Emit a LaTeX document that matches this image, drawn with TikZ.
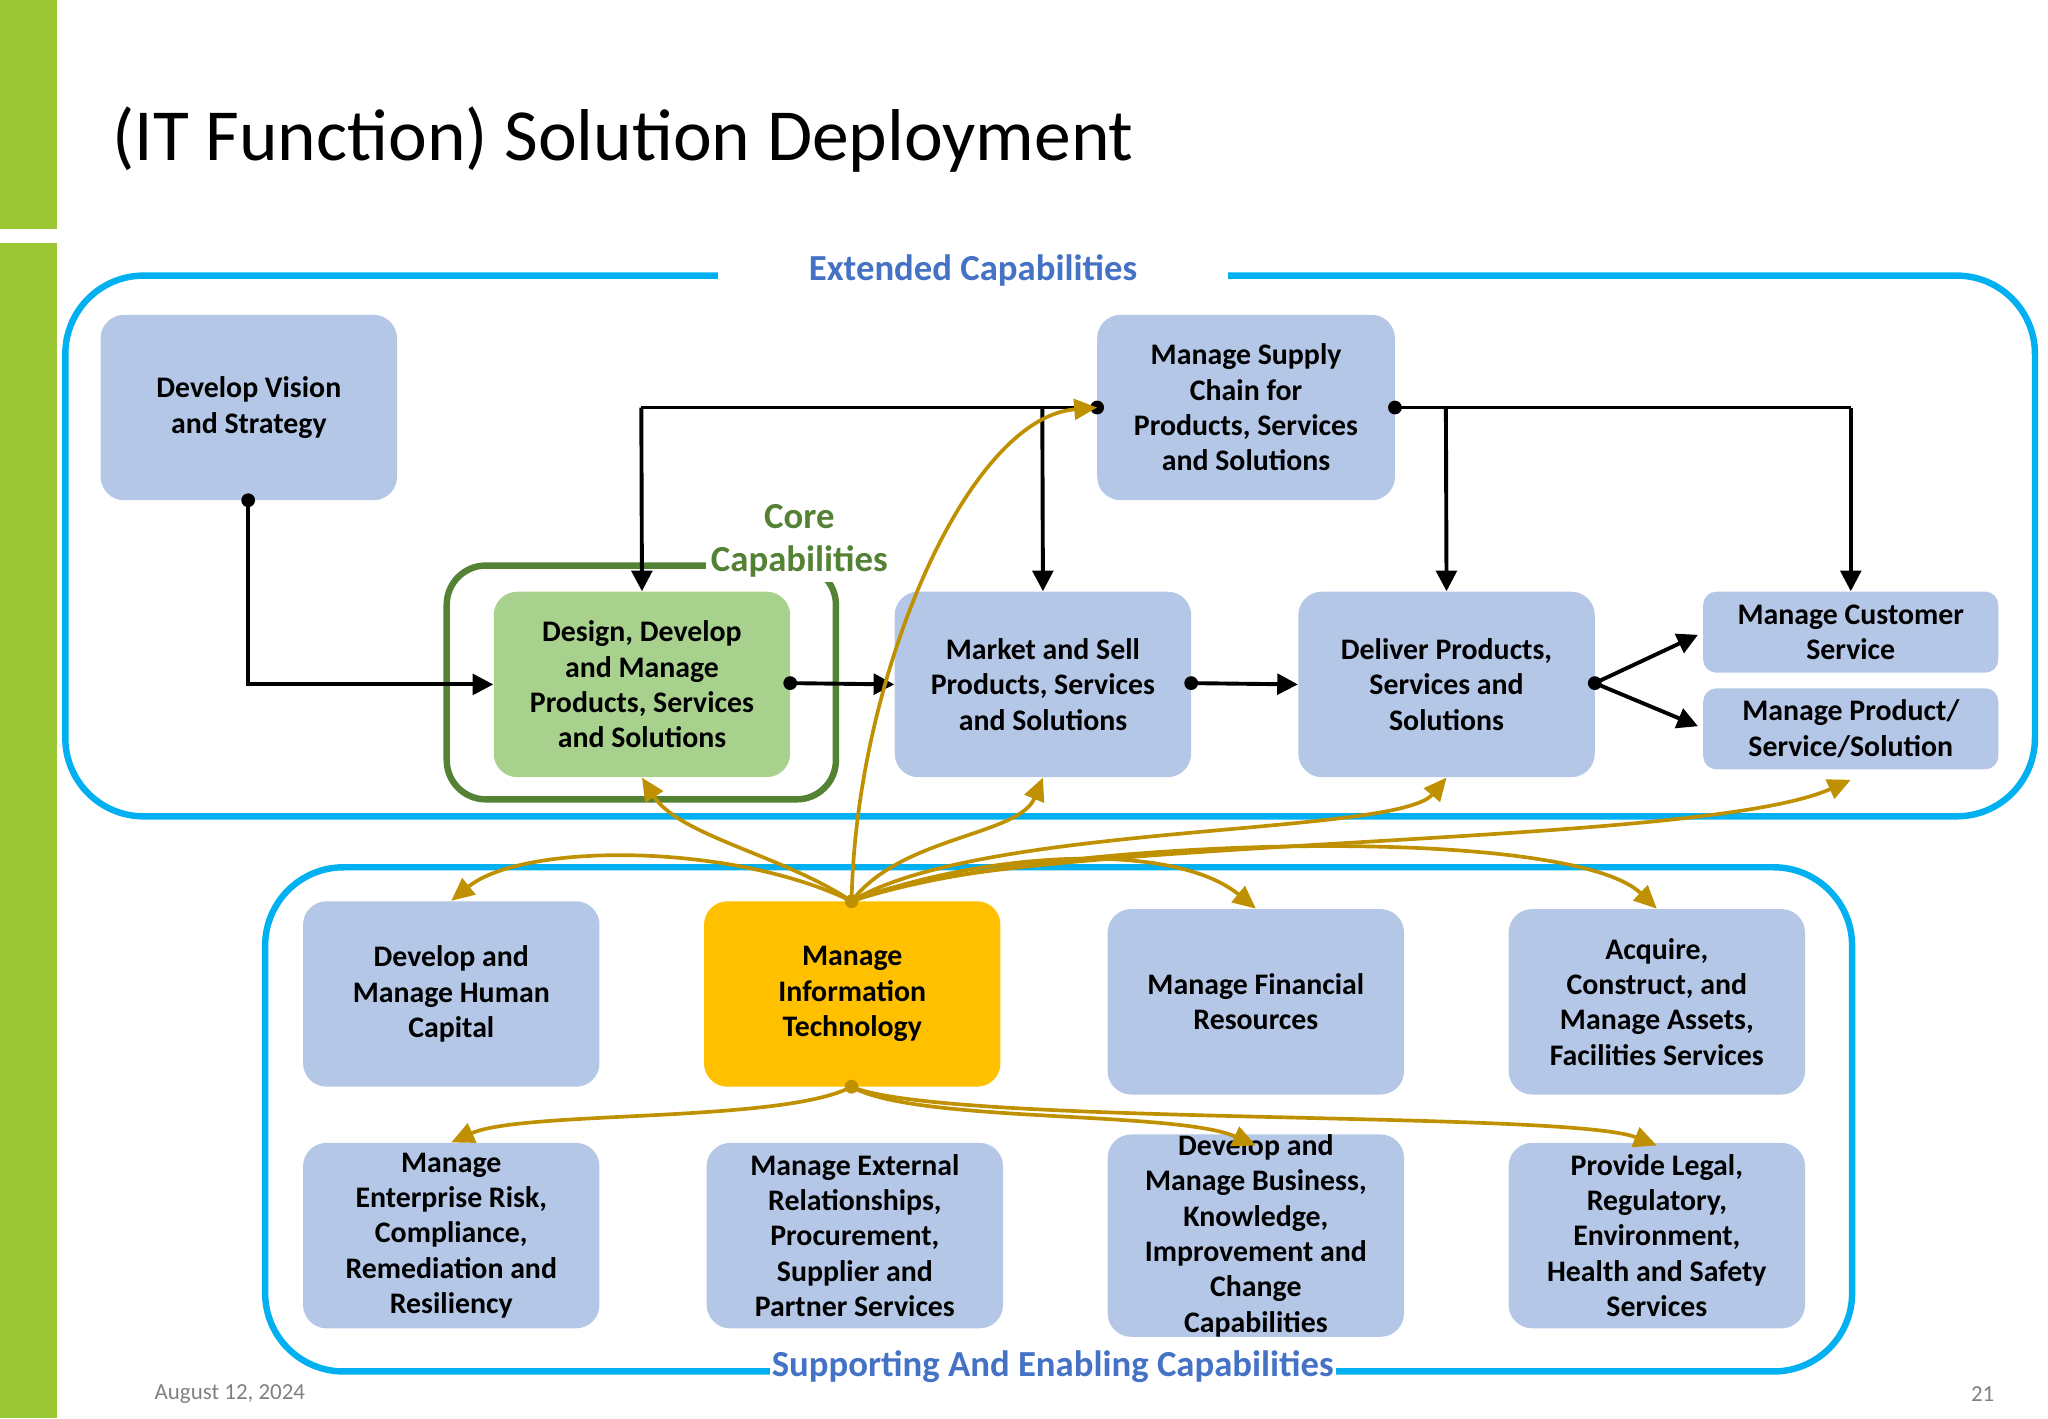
\documentclass[tikz,border=0pt]{standalone}
\usepackage{fontspec}
\setmainfont{Carlito}
\usetikzlibrary{arrows.meta}
\definecolor{barg}{RGB}{155,199,52}
\definecolor{boxb}{RGB}{180,199,231}
\definecolor{boxg}{RGB}{169,209,142}
\definecolor{gold}{RGB}{255,192,0}
\definecolor{arrg}{RGB}{191,144,0}
\definecolor{cyanl}{RGB}{0,176,240}
\definecolor{labb}{RGB}{68,114,196}
\definecolor{coreg}{RGB}{84,130,53}
\begin{document}
\begin{tikzpicture}[x=0.02cm,y=-0.02cm,
 box/.style={fill=boxb,rounded corners=0.36cm,align=center,font=\fontsize{13}{15.4}\selectfont\bfseries,inner sep=0pt},
 blk/.style={line width=1.7pt,-{Triangle[length=9pt,width=9pt]}},
 dot/.style={circle,fill=black,inner sep=0pt,minimum size=6pt},
 gl/.style={draw=arrg,line width=1.6pt,-{Triangle[length=10pt,width=9pt]}},
 bigr/.style={draw=cyanl,line width=2.8pt,rounded corners=1.2cm}]
\useasboundingbox (0,0) rectangle (1568,1086);
\fill[barg] (0,0) rectangle (44,175);
\fill[barg] (0,186) rectangle (44,1086);
\node[anchor=west,font=\fontsize{32}{38}\selectfont] (title) at (80,107) {(IT Function) Solution Deployment};
% outer frames
\draw[bigr] (50,211) rectangle (1558,625);
\node[fill=white,font=\fontsize{16}{19}\selectfont\bfseries,text=labb,minimum width=7.8cm] (ext) at (745,207) {Extended Capabilities};
\draw[bigr] (203,664) rectangle (1418,1050);
\node[fill=white,font=\fontsize{16}{19}\selectfont\bfseries,text=labb,inner sep=1pt] (sup) at (806,1046) {Supporting And Enabling Capabilities};
\draw[draw=coreg,line width=2.8pt,rounded corners=0.6cm] (342,433) rectangle (640,612);
\node[fill=white,font=\fontsize{16}{19}\selectfont\bfseries,text=coreg,align=center,inner sep=2pt] (core) at (612,414) {Core\\Capabilities};
% top boxes
\node[box,minimum width=4.54cm,minimum height=2.84cm] (vis) at (190.5,312) {Develop Vision\\and Strategy};
\node[box,minimum width=4.56cm,minimum height=2.84cm] (sc) at (954,312) {Manage Supply\\Chain for\\Products, Services\\and Solutions};
\node[box,fill=boxg,minimum width=4.54cm,minimum height=2.84cm] (des) at (491.5,524) {Design, Develop\\and Manage\\Products, Services\\and Solutions};
\node[box,minimum width=4.54cm,minimum height=2.84cm] (mkt) at (798.5,524) {Market and Sell\\Products, Services\\and Solutions};
\node[box,minimum width=4.54cm,minimum height=2.84cm] (del) at (1107.5,524) {Deliver Products,\\Services and\\Solutions};
\node[box,rounded corners=0.2cm,minimum width=4.52cm,minimum height=1.24cm] (cus) at (1417,484) {Manage Customer\\Service};
\node[box,rounded corners=0.2cm,minimum width=4.52cm,minimum height=1.24cm] (prd) at (1417,558) {Manage Product/\\Service/Solution};
% bottom boxes
\node[box,minimum width=4.54cm,minimum height=2.84cm] (hum) at (345.5,761) {Develop and\\Manage Human\\Capital};
\node[box,fill=gold,minimum width=4.54cm,minimum height=2.84cm] (it) at (652.5,761) {Manage\\Information\\Technology};
\node[box,minimum width=4.54cm,minimum height=2.84cm] (fin) at (961.5,767) {Manage Financial\\Resources};
\node[box,minimum width=4.54cm,minimum height=2.84cm] (acq) at (1268.5,767) {Acquire,\\Construct, and\\Manage Assets,\\Facilities Services};
\node[box,minimum width=4.54cm,minimum height=2.84cm] (risk) at (345.5,946) {Manage\\Enterprise Risk,\\Compliance,\\Remediation and\\Resiliency};
\node[box,minimum width=4.54cm,minimum height=2.84cm] (extr) at (654.5,946) {Manage External\\Relationships,\\Procurement,\\Supplier and\\Partner Services};
\node[box,minimum width=4.54cm,minimum height=2.84cm] (biz) at (961.5,946) {Develop and\\Manage Business,\\Knowledge,\\Improvement and\\Change\\Capabilities};
\node[box,minimum width=4.54cm,minimum height=2.84cm] (leg) at (1268.5,946) {Provide Legal,\\Regulatory,\\Environment,\\Health and Safety\\Services};
% black connectors
\node[dot] (d1) at (190,383) {};
\draw[blk] (d1.center) |- (des.west);
\node[dot] (d2) at (605,523) {};
\draw[blk] (d2.center) -- (mkt.west);
\node[dot] (d3) at (912,523) {};
\draw[blk] (d3.center) -- (del.west);
\node[dot] (d4) at (1221,523) {};
\draw[blk] (d4.center) -- (1300,486) coordinate (c1);
\draw[blk] (d4.center) -- (1300,556) coordinate (c2);
\node[dot] (d5) at (840,312) {};
\node[dot] (d6) at (1068,312) {};
\draw[line width=1.7pt] (d5.center) -- (491,312) coordinate (c3);
\draw[blk] (c3) -- (des.north);
\draw[blk] (798,312) coordinate (c4) -- (mkt.north);
\draw[line width=1.7pt] (d6.center) -- (1417,312) coordinate (c5);
\draw[blk] (c5) -- (cus.north);
\draw[blk] (1107,312) coordinate (c6) -- (del.north);
% gold connectors
\node[circle,fill=arrg,inner sep=0pt,minimum size=6pt] (g1) at (652,690) {};
\node[circle,fill=arrg,inner sep=0pt,minimum size=6pt] (g2) at (652,832) {};
\draw[gl] (g1.center) .. controls (600,655) and (520,640) .. (des.south);
\draw[gl] (g1.center) .. controls (560,645) and (400,645) .. (hum.north);
\draw[gl] (g1.center) .. controls (655,520) and (740,320) .. (d5.center);
\draw[gl] (g1.center) .. controls (690,640) and (780,640) .. (mkt.south);
\draw[gl] (g1.center) .. controls (750,630) and (1070,640) .. (del.south);
\draw[gl] (g1.center) .. controls (760,640) and (1300,650) .. (1417,597);
\draw[gl] (g1.center) .. controls (760,650) and (900,645) .. (fin.north);
\draw[gl] (g1.center) .. controls (800,640) and (1200,630) .. (acq.north);
\draw[gl] (g2.center) .. controls (600,860) and (400,850) .. (risk.north);
\draw[gl] (g2.center) .. controls (700,860) and (900,850) .. (961.5,877);
\draw[gl] (g2.center) .. controls (720,862) and (1200,850) .. (1268.5,877);
% footer
\node[text=gray,font=\fontsize{10}{12}\selectfont] (date) at (176,1067) {August 12, 2024};
\node[text=gray,font=\fontsize{10}{12}\selectfont] (pg) at (1518,1067) {21};
\end{tikzpicture}
\end{document}
